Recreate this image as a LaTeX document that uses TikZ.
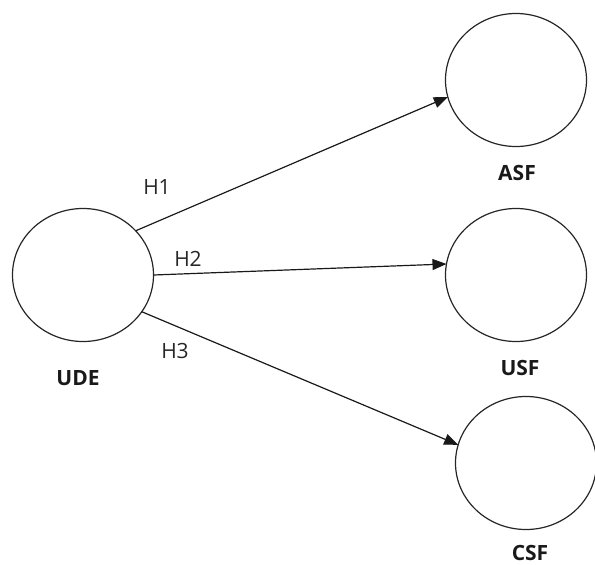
\documentclass[tikz,border=0pt]{standalone}
\usepackage{fontspec}
\setmainfont{Open Sans}
\usetikzlibrary{shapes.geometric,arrows.meta}
\newcommand{\factorWidth}[0]{141pt}
\newcommand{\factorHeight}[0]{133pt}
\newcommand{\pathFont}[0]{\fontsize{21}{25}\selectfont}
\newcommand{\lineWidth}[0]{1.2pt}

\begin{document}
\begin{tikzpicture}[x=1pt, y=-1pt]
  \tikzset{factor/.style={draw=black!85, ellipse, line width=\lineWidth, minimum width=\factorWidth, minimum height=\factorHeight, inner sep=0pt, outer sep=0pt}}
  \tikzset{factor name/.style={font=\pathFont\bfseries, text=black!90}}
  \tikzset{path name/.style={font=\pathFont, text=black!85}}
  \tikzset{path arrow/.style={draw=black!90, line width=\lineWidth, -{Triangle[length=14pt,width=11pt]}}}
  \useasboundingbox (0,0) rectangle (595,565);
  \node[factor](UDE) at (83,275) {};
  \node[factor](ASF) at (516,80) {};
  \node[factor](USF) at (516,275) {};
  \node[factor](CSF) at (526,463) {};
  \node[factor name](UDE-name) at (78,378) {UDE};
  \node[factor name](ASF-name) at (517,173) {ASF};
  \node[factor name](USF-name) at (520,368) {USF};
  \node[factor name](CSF-name) at (530,553) {CSF};
  \node[path name](H1) at (157,187) {H1};
  \node[path name](H2) at (188,259) {H2};
  \node[path name](H3) at (175,351) {H3};
  \draw[path arrow] (UDE.40) -- (ASF.194);
  \draw[path arrow] (UDE.0) -- (USF.171);
  \draw[path arrow] (UDE.328) -- (CSF.165);
\end{tikzpicture}
\end{document}
